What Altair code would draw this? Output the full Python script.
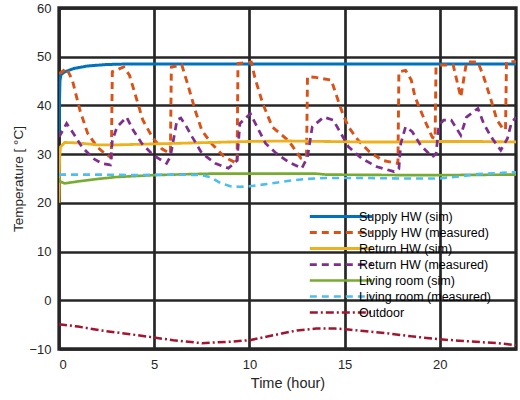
import altair as alt
import pandas as pd

series_names = ["Supply HW (sim)", "Supply HW (measured)", "Return HW (sim)",
                "Return HW (measured)", "Living room (sim)", "Living room (measured)", "Outdoor"]
series_colors = ["#0072BD", "#D95319", "#EDB120", "#7E2F8E", "#77AC30", "#4DBEEE", "#A2142F"]
series_dashes = [[1, 0], [7, 5], [1, 0], [7, 5], [1, 0], [7, 5], [8, 3, 2, 3]]
series_widths = [3, 2.5, 3, 2.5, 3, 2.5, 2.2]

supply_sim_t = [0, 0.02, 0.05, 0.1, 0.3, 0.8, 1.5, 2.5, 3.5, 5, 10, 15, 20, 24]
supply_sim_v = [33.5, 40, 45, 46.3, 46.9, 47.6, 48.1, 48.4, 48.5, 48.5, 48.5, 48.5, 48.5, 48.5]

supply_meas_t = [0, 0.4, 0.7, 1.1, 1.5, 2.0, 2.5, 2.75, 2.8, 3.4, 3.7, 4.1, 4.4, 4.9, 5.4, 5.85,
                 5.9, 6.45, 6.8, 7.15, 7.5, 8.0, 8.7, 9.35, 9.4, 10.1, 10.3, 10.7, 11.2, 12.05,
                 12.7, 13.0, 13.05, 13.4, 14.3, 14.6, 14.9, 15.2, 15.7, 16.3, 17.0, 17.8, 17.85,
                 18.2, 18.5, 18.7, 19.2, 19.6, 19.75, 19.8, 20.1, 20.7, 21.1, 21.4, 22.0, 22.3,
                 22.7, 23.0, 23.3, 23.45, 23.5, 24]
supply_meas_v = [46.5, 47.6, 45.2, 39, 34.3, 31.5, 29.8, 29.4, 46.9, 47.9, 46.2, 41, 37, 33.5, 31.1, 30.1,
                 47.9, 48.3, 43.8, 39, 34.9, 32.2, 29.4, 28.1, 48.6, 48.9, 45.5, 40.4, 35.6, 32.8,
                 29.2, 29.4, 45.9, 45.8, 45.2, 41.7, 38.3, 35.6, 32.9, 30.5, 28.7, 28.1, 46.9,
                 47.2, 45.2, 41.7, 37, 33.5, 33.2, 47.9, 48.3, 48.3, 41.7, 48.9, 48.9, 45.9,
                 41, 37, 35.3, 35, 48.9, 49]

return_sim_t = [0, 0.03, 0.08, 0.3, 1, 2, 3, 4, 6, 8, 10, 12, 14, 16, 18, 20, 22, 24]
return_sim_v = [20, 29, 31.5, 32.4, 32.3, 31.9, 31.9, 32.0, 32.2, 32.4, 32.6, 32.7, 32.6, 32.5, 32.5, 32.6, 32.6, 32.5]

return_meas_t = [0, 0.4, 0.75, 1.2, 1.8, 2.25, 2.7, 2.8, 3.05, 3.55, 3.9, 4.35, 4.95, 5.65, 5.85, 6.2,
                 6.4, 6.7, 7.0, 7.5, 8.2, 8.9, 9.35, 9.5, 10.05, 10.4, 10.85, 11.4, 12.05, 12.75,
                 13.05, 13.3, 13.9, 14.4, 14.8, 15.2, 15.9, 16.7, 17.6, 17.85, 17.95, 18.2, 18.55,
                 19.0, 19.6, 19.8, 19.95, 20.2, 20.6, 21.1, 21.4, 22.0, 22.3, 22.7, 23.2, 23.55,
                 23.75, 24]
return_meas_v = [33.5, 36.3, 34.3, 31.5, 29.1, 28.1, 27.8, 32.8, 35.6, 37.6, 34.9, 32.2, 29.8, 28.1, 29.5, 37,
                 37.4, 35.6, 33.5, 30.2, 28.1, 27.1, 28.7, 36.3, 38.3, 35.6, 32.2, 30.2, 28.4, 27.1,
                 29.4, 35.6, 37.6, 37, 34.3, 31.5, 29.1, 27.4, 26.4, 27, 32.2, 35.6, 34.6,
                 31.8, 29.4, 30, 35.9, 37, 37, 33.9, 37.6, 39.4, 36.3, 33.5, 30.8, 33.2,
                 36.3, 37.6]

living_sim_t = [0, 0.05, 0.3, 1, 2, 3, 5, 8, 10, 13.5, 14, 18, 20, 24]
living_sim_v = [25, 24.4, 24.0, 24.4, 24.9, 25.3, 25.7, 26, 26, 26, 25.8, 25.7, 25.7, 25.8]

living_meas_t = [0, 2, 4, 6, 7.5, 8, 8.5, 9, 9.5, 10, 11, 12, 13, 14, 16, 18, 20, 21, 22, 23, 24]
living_meas_v = [25.8, 25.8, 25.7, 25.8, 25.7, 25.2, 24.0, 23.4, 23.3, 23.4, 23.9, 24.5, 24.9, 25.1,
                 25.1, 25.0, 25.0, 25.4, 25.9, 26.1, 26.3]

outdoor_t = [0, 1, 2.4, 4, 4.9, 6, 7.5, 9, 10, 11, 11.7, 12.5, 13.5, 14.5, 15.2, 16, 17.3, 18.5,
             20, 21, 22.2, 23, 24]
outdoor_v = [-4.9, -5.4, -6.3, -7.1, -7.6, -8.2, -8.8, -8.5, -8.2, -7.4, -6.8, -6.2, -5.8, -5.8,
             -6.0, -6.3, -6.8, -7.4, -8.0, -8.3, -8.6, -8.8, -9.2]

all_t = [supply_sim_t, supply_meas_t, return_sim_t, return_meas_t, living_sim_t, living_meas_t, outdoor_t]
all_v = [supply_sim_v, supply_meas_v, return_sim_v, return_meas_v, living_sim_v, living_meas_v, outdoor_v]

rows = []
for i, (name, ts, vs) in enumerate(zip(series_names, all_t, all_v)):
    for j, (t, v) in enumerate(zip(ts, vs)):
        rows.append({"series": name, "t": t, "v": v, "idx": j, "k": i})
df = pd.DataFrame(rows)

legend = alt.Legend(
    title=None, orient="none", legendX=274.5, legendY=201,
    symbolType="M-5.2,0H5.2", symbolSize=144, symbolStrokeWidth=3,
    labelFontSize=12.5, labelFont="Liberation Sans", labelColor="#000000",
    rowPadding=2, labelOffset=10.5, padding=0,
)

chart = alt.Chart(df).mark_line(clip=True).encode(
    x=alt.X("t:Q", scale=alt.Scale(domain=[0, 24], nice=False),
            axis=alt.Axis(title="Time (hour)", values=[0, 5, 10, 15, 20], format="d",
                          titlePadding=5, labelPadding=9, titleFontSize=14.5)),
    y=alt.Y("v:Q", scale=alt.Scale(domain=[-10, 60], nice=False),
            axis=alt.Axis(title="Temperature [ °C]", values=[-10, 0, 10, 20, 30, 40, 50, 60],
                          labelPadding=8, titlePadding=3, titleFontSize=13.5)),
    color=alt.Color("series:N", scale=alt.Scale(domain=series_names, range=series_colors), legend=legend),
    strokeDash=alt.StrokeDash("series:N", scale=alt.Scale(domain=series_names, range=series_dashes), legend=legend),
    strokeWidth=alt.StrokeWidth("series:N", scale=alt.Scale(domain=series_names, range=series_widths), legend=legend),
    detail="series:N",
    order=alt.Order("idx:Q"),
).properties(
    width=457, height=341,
    background="white",
    autosize=alt.AutoSizeParams(type="none"),
    padding={"left": 59, "top": 8, "right": 4, "bottom": 51},
).configure_view(
    stroke="#262626", strokeWidth=3.3
).configure_axis(
    grid=True, gridColor="#262626", gridWidth=2.7, gridOpacity=1,
    domain=False, ticks=False, zindex=1,
    labelFont="Liberation Sans", labelFontSize=13, labelColor="#262626",
    titleFont="Liberation Sans", titleColor="#262626", titleFontWeight="normal",
)

chart.save("out.html", embed_options={"renderer": "svg", "actions": False})
